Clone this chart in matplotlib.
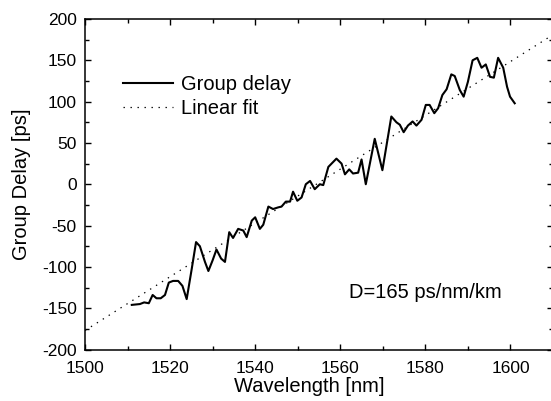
import matplotlib
matplotlib.use("Agg")
import matplotlib.pyplot as plt
from matplotlib.ticker import MultipleLocator

plt.rcParams['font.family'] = ['Liberation Sans', 'DejaVu Sans']
plt.rcParams['axes.unicode_minus'] = False

wavelength_nm = [1511.0, 1512.9, 1513.9, 1515.0, 1515.9, 1516.8, 1517.8, 1518.8,
                 1519.7, 1520.7, 1521.9, 1522.9, 1523.9, 1525.1, 1526.1, 1527.0,
                 1528.2, 1529.0, 1530.0, 1530.9, 1532.0, 1532.9, 1533.9, 1534.8,
                 1536.0, 1537.2, 1538.0, 1539.2, 1540.0, 1541.1, 1541.9, 1543.1,
                 1544.2, 1545.4, 1546.2, 1547.2, 1548.2, 1548.9, 1549.9, 1550.9,
                 1551.9, 1552.9, 1554.0, 1555.2, 1556.0, 1557.2, 1559.1, 1560.3,
                 1561.1, 1562.1, 1563.0, 1564.2, 1565.0, 1566.0, 1568.1, 1569.9,
                 1572.0, 1573.2, 1574.0, 1574.9, 1575.9, 1577.0, 1577.9, 1579.1,
                 1580.1, 1581.0, 1582.1, 1583.0, 1584.0, 1585.0, 1586.1, 1586.9,
                 1588.1, 1589.0, 1590.0, 1591.1, 1592.2, 1593.2, 1594.2, 1595.2,
                 1596.1, 1597.1, 1598.3, 1599.2, 1599.9, 1601.0]
group_delay_ps = [-146, -145, -143, -144, -134, -138, -138, -134,
                  -119, -117, -117, -123, -139, -102, -70, -75,
                  -94, -105, -92, -79, -90, -94, -58, -65,
                  -54, -56, -64, -44, -40, -54, -49, -27,
                  -30, -28, -27, -21, -21, -9, -20, -16,
                  0, 4, -6, 0, -1, 21, 31, 25,
                  12, 18, 13, 14, 30, 0, 55, 17,
                  82, 75, 72, 63, 71, 76, 71, 78,
                  96, 96, 86, 92, 108, 115, 133, 131,
                  114, 106, 124, 150, 153, 141, 145, 130,
                  129, 153, 141, 118, 106, 98]

# Linear fit end points
fit_wavelength_nm = [1500, 1610]
fit_delay_ps = [-177, 181]

x_ticks = [1500, 1520, 1540, 1560, 1580, 1600]
y_ticks = [-200, -150, -100, -50, 0, 50, 100, 150, 200]

fig = plt.figure(figsize=(5.51, 4.01), dpi=100)
ax = fig.add_axes([85/551, 1 - 349.5/401, 468/551, (349.5 - 19)/401])

ax.plot(wavelength_nm, group_delay_ps, color='black', lw=1.5,
        solid_joinstyle='round', label='Group delay')
ax.plot(fit_wavelength_nm, fit_delay_ps, color='black', lw=0.9,
        linestyle=(0, (1.1, 4.5)), label='Linear fit')

ax.set_xlim(1500, 1610)
ax.set_ylim(-200, 200)
ax.set_xticks(x_ticks)
ax.set_yticks(y_ticks)
ax.xaxis.set_minor_locator(MultipleLocator(10))
ax.yaxis.set_minor_locator(MultipleLocator(25))
ax.tick_params(which='both', direction='in', top=True, right=True,
               width=1.0, colors='black', labelsize=12.5, pad=6)
ax.tick_params(axis='x', which='both', pad=8.5)
ax.tick_params(which='major', length=4.5)
ax.tick_params(which='minor', length=2.8)
for s in ax.spines.values():
    s.set_linewidth(1.1)

ax.set_xlabel('Wavelength [nm]', fontsize=14.5)
ax.set_ylabel('Group Delay [ps]', fontsize=14.5)
ax.xaxis.set_label_coords((309 - 85) / 468, -(387 - 349.5) / 330.5, transform=ax.transAxes)
ax.yaxis.set_label_coords(22 / 551, 1 - 184 / 401, transform=fig.transFigure)
ax.xaxis.label.set_va('center')
ax.yaxis.label.set_va('center')

leg = ax.legend(loc='center left', bbox_to_anchor=(123/551, 1 - 96.5/401),
                bbox_transform=fig.transFigure, frameon=False, fontsize=14.5,
                handlelength=2.5, handletextpad=0.4, borderpad=0,
                borderaxespad=0, labelspacing=0.22)

ax.text(1580, -131, 'D=165 ps/nm/km', fontsize=14.5, ha='center', va='center')

fig.savefig('out.png', dpi=100)
